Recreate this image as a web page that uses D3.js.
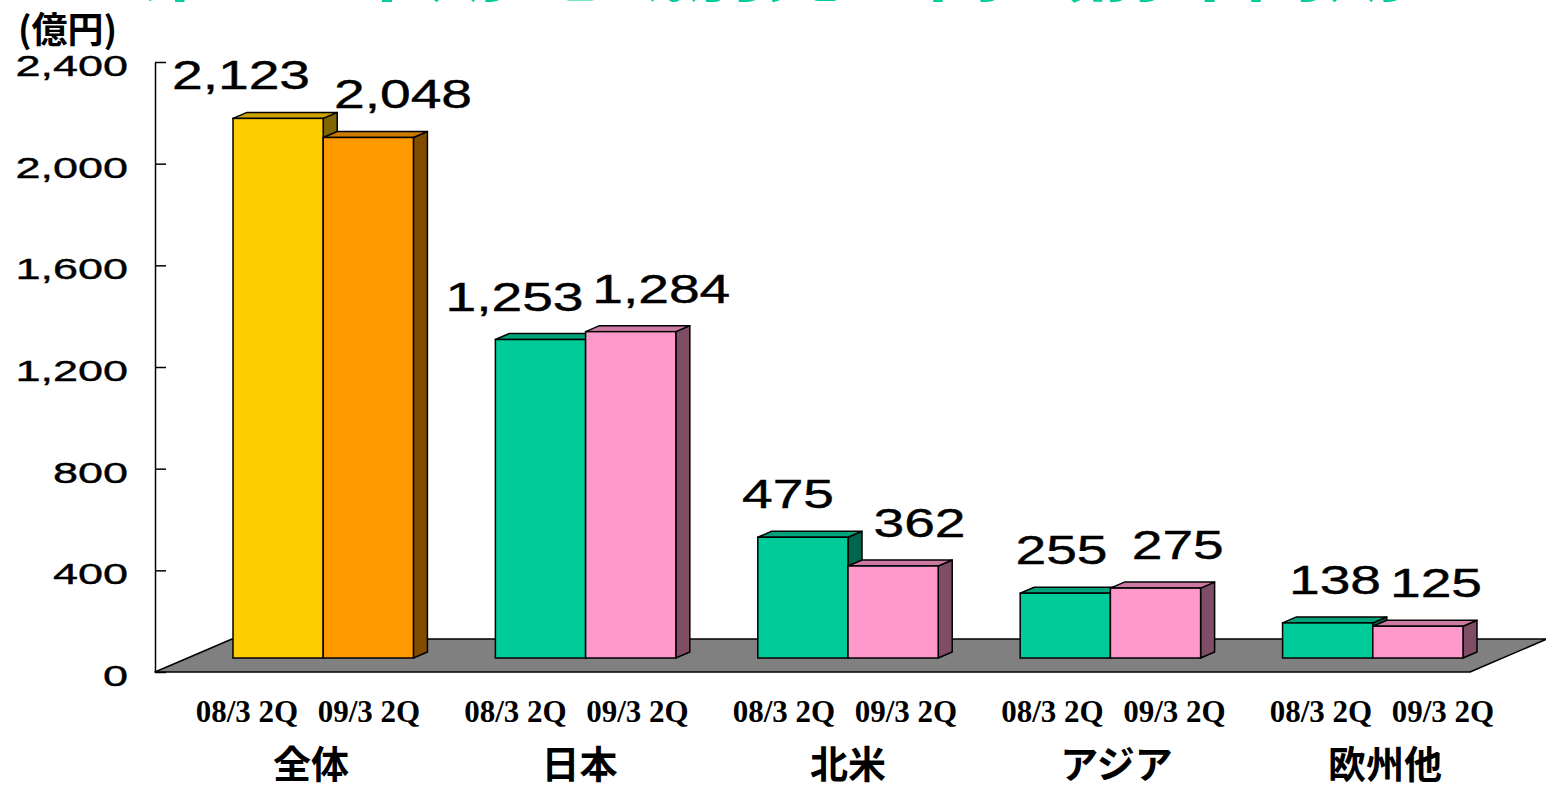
<!DOCTYPE html>
<html>
<head>
<meta charset="utf-8">
<script src="https://cdn.jsdelivr.net/npm/d3@7"></script>
<style>
  body { margin: 0; background: #fff; }
  svg { display: block; }
</style>
</head>
<body>
<div id="chart"></div>
<script>
// data
var categories = ["全体", "日本", "北米", "アジア", "欧州他"];
var periods = ["08/3 2Q", "09/3 2Q"];
var sales0803 = [2123, 1253, 475, 255, 138];
var sales0903 = [2048, 1284, 362, 275, 125];
var yTicks = [0, 400, 800, 1200, 1600, 2000, 2400];
var unitLabel = "(億円)";
var titleText = "第2四半期 地域別売上高（前年同期との比較）";

var width = 1546, height = 789;
var svg = d3.select("#chart").append("svg")
  .attr("width", width)
  .attr("height", height);

// <------------------ scales ------------------>
var y = d3.scaleLinear().domain([0, 2400]).range([672, 62]);
var axisX = 155;

var x0 = d3.scaleBand().domain(categories).range([200, 1430]).paddingInner(0.3124);
var x1 = d3.scaleBand().domain(periods).range([0, x0.bandwidth()]);

// label rows (they don't line up exactly with the bars in the original)
var xl = d3.scalePoint().domain(categories).range([308, 1382]);
var xv = [
  d3.scalePoint().domain(categories).range([241, 1335]),
  d3.scalePoint().domain(categories).range([403, 1436])
];

var floorDepth = { dx: 77, dy: -33 };
var barShift = { dx: 33, dy: -14 };
var barDepth = { dx: 14, dy: -6 };

// title of the slide, mostly outside the picture
svg.append("text")
  .attr("x", 140)
  .attr("y", -6)
  .attr("font-family", "'Noto Sans CJK JP'")
  .attr("font-weight", "bold")
  .attr("font-size", 80)
  .attr("fill", "#00CC99")
  .text(titleText);

// <------------------ floor ------------------>
var fl = axisX, fr = 1470, fy = y(0);
svg.append("path")
  .attr("d", "M" + fl + "," + fy + "L" + fr + "," + fy +
    "L" + (fr + floorDepth.dx) + "," + (fy + floorDepth.dy) +
    "L" + (fl + floorDepth.dx) + "," + (fy + floorDepth.dy) + "Z")
  .attr("fill", "#808080")
  .attr("stroke", "#000")
  .attr("stroke-width", 1.5)
  .attr("stroke-linejoin", "round");

// <------------------ axis ------------------>
var axis = svg.append("g")
  .attr("transform", "translate(" + axisX + ",0)")
  .call(d3.axisRight(y).tickValues(yTicks).tickSize(11).tickSizeOuter(0).tickFormat(""));
axis.selectAll("path, line").attr("stroke", "#000").attr("stroke-width", 1.5);

svg.selectAll(".ytick")
  .data(yTicks)
  .enter()
  .append("text")
  .attr("class", "ytick")
  .attr("transform", function(d) { return "translate(128," + (y(d) + 14) + ") scale(1.5,1)"; })
  .attr("text-anchor", "end")
  .attr("font-family", "'Liberation Sans', Arial")
  .attr("font-size", 30)
  .attr("fill", "#000")
  .attr("stroke", "#000")
  .attr("stroke-width", 0.4)
  .text(function(d) { return d3.format(",")(d); });

svg.append("text")
  .attr("x", 18)
  .attr("y", 43)
  .attr("font-family", "'Noto Sans CJK JP'")
  .attr("font-weight", "bold")
  .attr("font-size", 36)
  .attr("fill", "#000")
  .text(unitLabel);

// <------------------ 3d bars ------------------>
var colors = [
  ["#FFCC00", "#FF9900"],
  ["#00CC99", "#FF99CC"]
];
function shade(c, k) {
  var r = d3.rgb(c);
  return d3.rgb(r.r * k, r.g * k, r.b * k).formatHex();
}

var bars = [];
categories.forEach(function(c, i) {
  [sales0803[i], sales0903[i]].forEach(function(v, s) {
    bars.push({ cat: c, period: periods[s], s: s, value: v, color: colors[i === 0 ? 0 : 1][s] });
  });
});

var g = svg.selectAll(".bar")
  .data(bars)
  .enter()
  .append("g")
  .attr("class", "bar");

function geom(d) {
  var xa = x0(d.cat) + x1(d.period) + barShift.dx;
  var xb = xa + x1.bandwidth();
  var yb = y(0) + barShift.dy;
  var yt = y(d.value) + barShift.dy;
  return { xa: xa, xb: xb, yb: yb, yt: yt };
}

// side
g.append("path")
  .attr("d", function(d) {
    var b = geom(d);
    return "M" + b.xb + "," + b.yb + "L" + (b.xb + barDepth.dx) + "," + (b.yb + barDepth.dy) +
      "L" + (b.xb + barDepth.dx) + "," + (b.yt + barDepth.dy) + "L" + b.xb + "," + b.yt + "Z";
  })
  .attr("fill", function(d) { return shade(d.color, 0.5); })
  .attr("stroke", "#000").attr("stroke-width", 1.5).attr("stroke-linejoin", "round");
// top
g.append("path")
  .attr("d", function(d) {
    var b = geom(d);
    return "M" + b.xa + "," + b.yt + "L" + (b.xa + barDepth.dx) + "," + (b.yt + barDepth.dy) +
      "L" + (b.xb + barDepth.dx) + "," + (b.yt + barDepth.dy) + "L" + b.xb + "," + b.yt + "Z";
  })
  .attr("fill", function(d) { return shade(d.color, 0.8); })
  .attr("stroke", "#000").attr("stroke-width", 1.5).attr("stroke-linejoin", "round");
// front
g.append("rect")
  .attr("x", function(d) { return geom(d).xa; })
  .attr("y", function(d) { return geom(d).yt; })
  .attr("width", x1.bandwidth())
  .attr("height", function(d) { var b = geom(d); return b.yb - b.yt; })
  .attr("fill", function(d) { return d.color; })
  .attr("stroke", "#000").attr("stroke-width", 1.5);

// value labels
svg.selectAll(".vlabel")
  .data(bars)
  .enter()
  .append("text")
  .attr("class", "vlabel")
  .attr("transform", function(d) {
    return "translate(" + xv[d.s](d.cat) + "," + (geom(d).yt - 29) + ") scale(1.38,1)";
  })
  .attr("text-anchor", "middle")
  .attr("font-family", "'Liberation Sans', Arial")
  .attr("font-size", 40)
  .attr("fill", "#000")
  .attr("stroke", "#000")
  .attr("stroke-width", 0.4)
  .text(function(d) { return d3.format(",")(d.value); });

// period labels under each bar
svg.selectAll(".plabel")
  .data(bars)
  .enter()
  .append("text")
  .attr("class", "plabel")
  .attr("x", function(d) { return xl(d.cat) + (d.s === 0 ? -61 : 61); })
  .attr("y", 722)
  .attr("text-anchor", "middle")
  .attr("font-family", "'Liberation Serif', 'Times New Roman'")
  .attr("font-weight", "bold")
  .attr("font-size", 31)
  .attr("fill", "#000")
  .text(function(d) { return d.period; });

// region labels
svg.selectAll(".clabel")
  .data(categories)
  .enter()
  .append("text")
  .attr("class", "clabel")
  .attr("x", function(d) { return xl(d) + 3; })
  .attr("y", 778)
  .attr("text-anchor", "middle")
  .attr("font-family", "'Noto Sans CJK JP'")
  .attr("font-weight", "bold")
  .attr("font-size", 38)
  .attr("fill", "#000")
  .text(function(d) { return d; });
</script>
</body>
</html>
